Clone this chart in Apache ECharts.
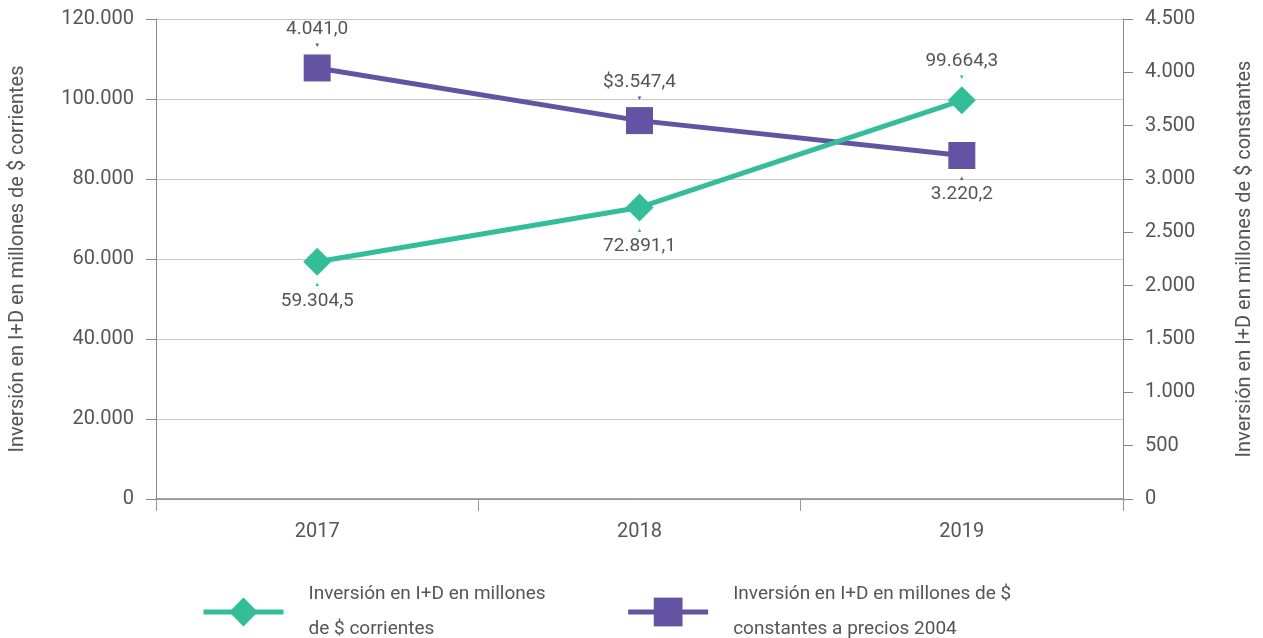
<!DOCTYPE html>
<html>
<head>
<meta charset="utf-8">
<title>Inversión en I+D</title>
<script src="https://cdn.jsdelivr.net/npm/echarts@6/dist/echarts.min.js"></script>
<style>
  html, body { margin: 0; padding: 0; background: #fff; }
  #main { width: 1263px; height: 638px; }
</style>
</head>
<body>
<div id="main"></div>
<script>
// datos
var years = ['2017', '2018', '2019'];
var corrientes = [59304.5, 72891.1, 99664.3];
var constantes = [4041.0, 3547.4, 3220.2];
var corrientesLabels = ['59.304,5', '72.891,1', '99.664,3'];
var constantesLabels = ['4.041,0', '$3.547,4', '3.220,2'];
var corrientesPos = ['bottom', 'bottom', 'top'];
var constantesPos = ['top', 'top', 'bottom'];
var nameCorr = 'Inversión en I+D en millones de $ corrientes';
var nameConst = 'Inversión en I+D en millones de $ constantes a precios 2004';

var FONT = 'Roboto, sans-serif';
var TXT = '#555';
var GREEN = '#33bd98';
var PURPLE = '#6353a3';

function thousands(v) {
    return String(v).replace(/\B(?=(\d{3})+(?!\d))/g, '.');
}

function pointData(values, labels, pos, color) {
    return values.map(function (v, i) {
        var top = pos[i] === 'top';
        return {
            value: v,
            label: {
                show: true,
                position: pos[i],
                distance: 4,
                formatter: top ? '{t|' + labels[i] + '}\n{a|▼}' : '{a|▲}\n{t|' + labels[i] + '}',
                rich: {
                    t: { fontFamily: FONT, fontSize: 19, color: TXT, lineHeight: 22 },
                    a: { fontSize: 6, color: color, lineHeight: 10 }
                }
            }
        };
    });
}

var chart = echarts.init(document.getElementById('main'));

chart.setOption({
    animation: false,
    textStyle: { fontFamily: FONT },
    grid: { left: 156, right: 136, top: 19, bottom: 139 },
    legend: {
        left: 196,
        top: 572,
        itemWidth: 80,
        itemHeight: 36,
        itemGap: 80,
        data: [nameCorr, nameConst],
        lineStyle: { width: 5 },
        formatter: function (n) {
            return n === nameCorr
                ? 'Inversión en I+D en millones\nde $ corrientes'
                : 'Inversión en I+D en millones de $\nconstantes a precios 2004';
        },
        textStyle: { fontFamily: FONT, fontSize: 19, color: TXT, lineHeight: 35, padding: [0, 0, 0, 20] }
    },
    xAxis: {
        type: 'category',
        data: years,
        boundaryGap: true,
        axisLine: { lineStyle: { color: '#888', width: 1.5 } },
        axisTick: { show: true, length: 12, lineStyle: { color: '#999' } },
        axisLabel: { fontFamily: FONT, fontSize: 20, color: TXT, margin: 23 }
    },
    yAxis: [{
        type: 'value',
        min: 0, max: 120000, interval: 20000,
        name: nameCorr,
        nameLocation: 'middle',
        nameRotate: 90,
        nameGap: 128,
        nameTextStyle: { fontFamily: FONT, fontSize: 20, color: TXT },
        axisLine: { show: true, lineStyle: { color: '#888' } },
        axisTick: { show: true, length: 10, lineStyle: { color: '#888' } },
        axisLabel: { fontFamily: FONT, fontSize: 20, color: TXT, margin: 22, formatter: thousands },
        splitLine: { lineStyle: { color: '#c8c8c8', width: 1 } }
    }, {
        type: 'value',
        position: 'right',
        min: 0, max: 4500, interval: 500,
        name: nameConst.replace(' a precios 2004', ''),
        nameLocation: 'middle',
        nameRotate: 90,
        nameGap: 112,
        nameTextStyle: { fontFamily: FONT, fontSize: 20, color: TXT },
        axisLine: { show: true, lineStyle: { color: '#888' } },
        axisTick: { show: true, length: 10, lineStyle: { color: '#888' } },
        axisLabel: { fontFamily: FONT, fontSize: 20, color: TXT, margin: 22, formatter: thousands },
        splitLine: { show: false }
    }],
    series: [{
        name: nameCorr,
        type: 'line',
        yAxisIndex: 0,
        data: pointData(corrientes, corrientesLabels, corrientesPos, GREEN),
        symbol: 'diamond',
        symbolSize: 28,
        itemStyle: { color: GREEN },
        lineStyle: { color: GREEN, width: 5 },
        z: 3
    }, {
        name: nameConst,
        type: 'line',
        yAxisIndex: 1,
        data: pointData(constantes, constantesLabels, constantesPos, PURPLE),
        symbol: 'rect',
        symbolSize: 27,
        itemStyle: { color: PURPLE },
        lineStyle: { color: PURPLE, width: 5 },
        z: 2
    }]
});
</script>
</body>
</html>
